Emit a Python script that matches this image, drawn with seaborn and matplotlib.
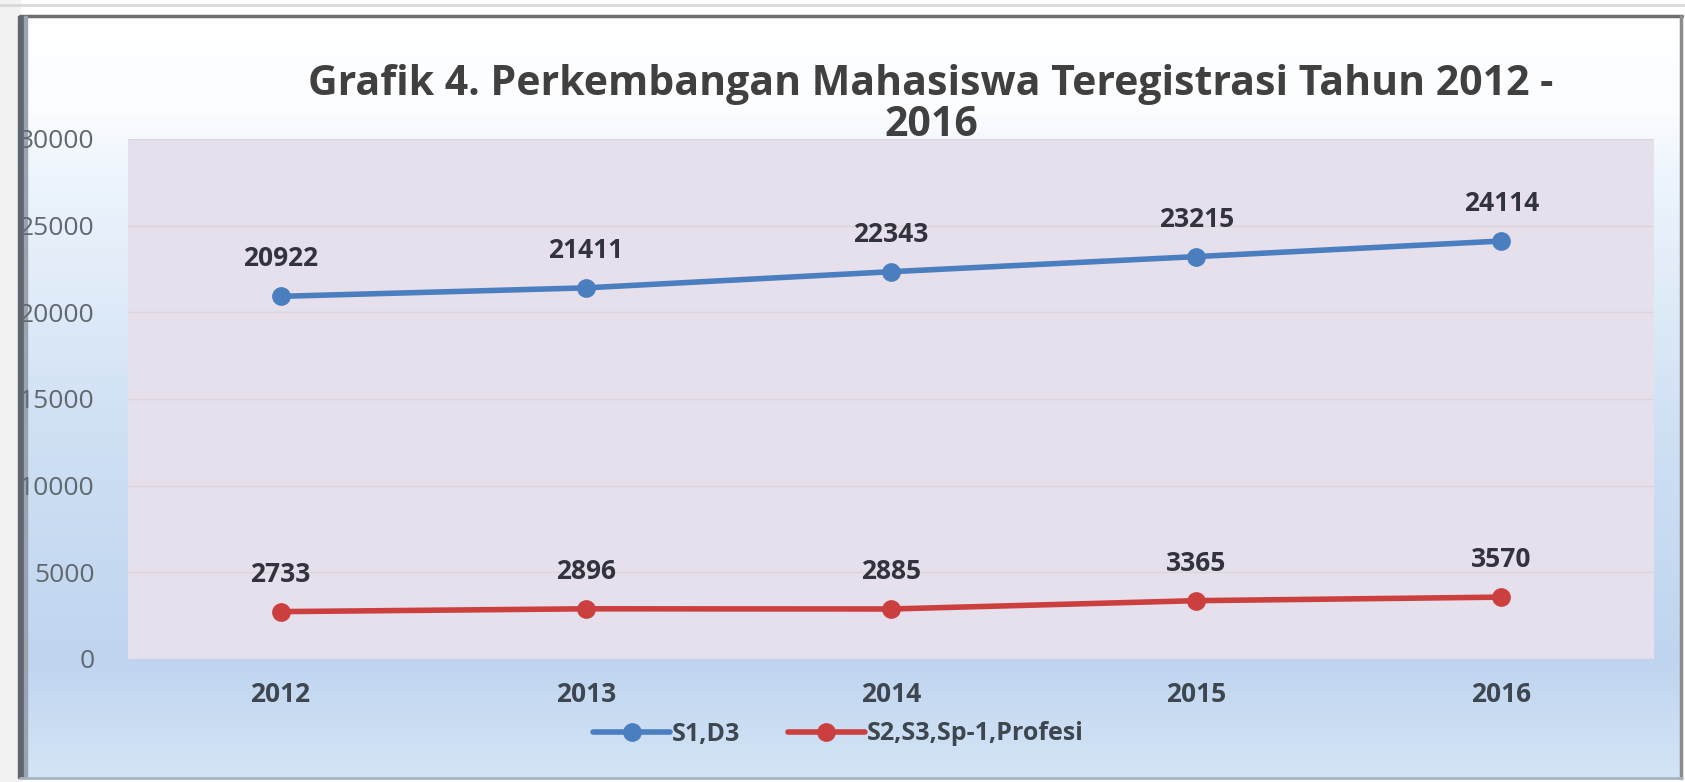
import numpy as np
import pandas as pd
import matplotlib
matplotlib.use("Agg")
import matplotlib.pyplot as plt
import seaborn as sns
from matplotlib.lines import Line2D
from matplotlib.colors import LinearSegmentedColormap

# ---- data ----
years = ["2012", "2013", "2014", "2015", "2016"]
s1_d3 = [20922, 21411, 22343, 23215, 24114]
s2_s3 = [2733, 2896, 2885, 3365, 3570]
series_names = ["S1,D3", "S2,S3,Sp-1,Profesi"]
y_ticks = [0, 5000, 10000, 15000, 20000, 25000, 30000]
title = "Grafik 4. Perkembangan Mahasiswa Teregistrasi Tahun 2012 -\n2016"

df = pd.DataFrame({
    "Tahun": years * 2,
    "Jumlah": s1_d3 + s2_s3,
    "Seri": [series_names[0]] * len(years) + [series_names[1]] * len(years),
})

sns.set_theme(style="white")
plt.rcParams["font.family"] = ["Open Sans", "DejaVu Sans"]

W, H = 1685, 782
fig = plt.figure(figsize=(W / 100, H / 100), dpi=100)

# ---- background (gradient + frame) ----
bg = fig.add_axes([0, 0, 1, 1], zorder=-10)
bg.set_xlim(0, W)
bg.set_ylim(H, 0)
bg.axis("off")
cmap = LinearSegmentedColormap.from_list(
    "bgblue",
    [(0.0, "#FFFFFF"), (0.12, "#FBFDFF"), (0.2, "#EEF5FC"), (0.55, "#CFE0F4"),
     (0.85, "#BFD5EF"), (1.0, "#D4E4F6")])
grad = np.linspace(0, 1, 400).reshape(-1, 1)
bg.imshow(grad, cmap=cmap, aspect="auto", extent=[20, 1682, 778, 16], zorder=0)
# outer light frame
bg.add_patch(plt.Rectangle((0, 0), W, 16, color="#FFFFFF", zorder=1))
bg.add_patch(plt.Rectangle((0, 0), 20, H, color="#F2F2F2", zorder=1))
bg.plot([0, W], [5, 5], color="#D9D9D9", lw=2, zorder=2)
# dark chart frame
bg.plot([20, 1682], [16, 16], color="#6E6E6E", lw=2.5, zorder=3)
bg.add_patch(plt.Rectangle((18, 16), 6, 762, color="#5F6670", zorder=3))
bg.add_patch(plt.Rectangle((24, 16), 3, 762, color="#9AA3AE", zorder=3))
bg.plot([1681, 1681], [16, 778], color="#8C8C8C", lw=2.5, zorder=3)
bg.plot([20, 1682], [778, 778], color="#A6B4C4", lw=2, zorder=3)

# ---- main axes ----
ax = fig.add_axes([128 / W, 1 - 659 / H, (1654 - 128) / W, (659 - 139) / H])
ax.set_facecolor("#E5E0EB")
palette = {series_names[0]: "#4A7EBF", series_names[1]: "#CC3F3F"}
sns.lineplot(data=df, x="Tahun", y="Jumlah", hue="Seri", palette=palette,
             marker="o", markersize=13.5, markeredgewidth=0, linewidth=4,
             ax=ax, legend=False, zorder=3)

ax.set_xlim(-0.5, len(years) - 0.5)
ax.set_ylim(0, 30000)
ax.set_yticks(y_ticks)
ax.set_yticklabels([str(t) for t in y_ticks])
ax.yaxis.grid(True, color="#DCD4DE", linewidth=1)
ax.xaxis.grid(False)
for s in ax.spines.values():
    s.set_visible(False)
ax.set_xlabel("")
ax.set_ylabel("")
ax.tick_params(axis="y", length=0, pad=24, labelsize=19, labelcolor="#626870")
ax.tick_params(axis="x", length=0, pad=16, labelsize=19, labelcolor="#3E4650")
for lbl in ax.get_xticklabels():
    lbl.set_fontweight("bold")

# data labels
for vals in (s1_d3, s2_s3):
    for i, v in enumerate(vals):
        ax.annotate(str(v), (i, v), xytext=(0, 27), textcoords="offset points",
                    ha="center", va="center", fontsize=19, fontweight="bold",
                    color="#33333D", zorder=4)

# title
fig.text(931 / W, 1 - 105 / H, title, ha="center", va="center",
         fontsize=29.5, fontweight="bold", color="#404040",
         multialignment="center", linespacing=1.0)

# legend
handles = [Line2D([0], [0], color=palette[n], lw=4, marker="o",
                  markersize=13.5, markeredgewidth=0) for n in series_names]
leg = fig.legend(handles, series_names, loc="center", ncol=2,
                 bbox_to_anchor=(838 / W, 1 - 734 / H), frameon=False,
                 handlelength=3.1, handletextpad=0.05, columnspacing=1.9,
                 prop={"size": 18, "weight": "bold"})
for t in leg.get_texts():
    t.set_color("#3E4650")

fig.savefig("out.png", dpi=100)
